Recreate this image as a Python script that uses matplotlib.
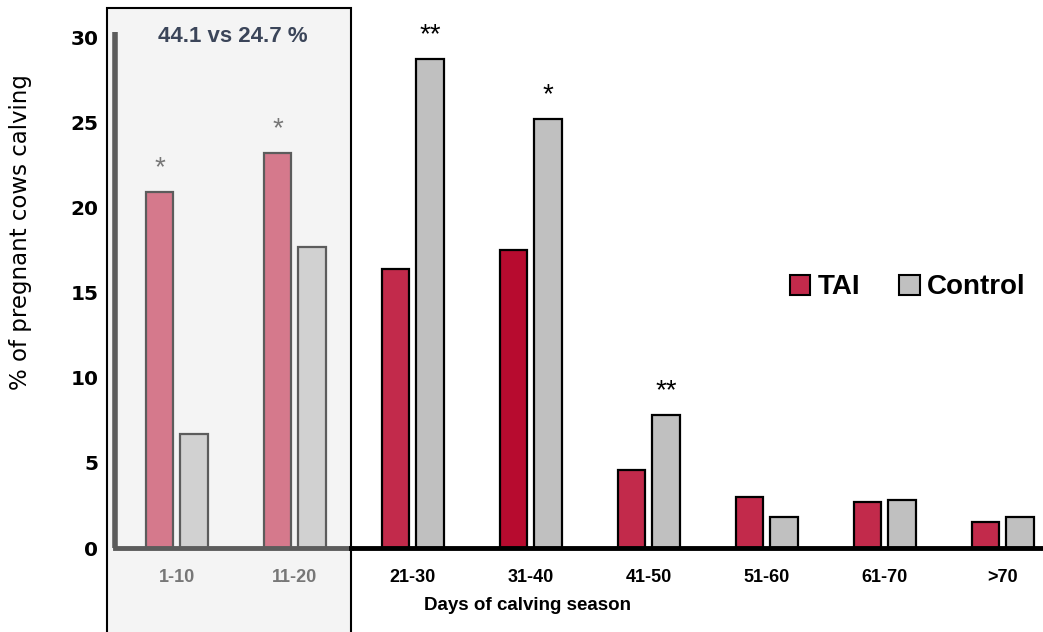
import numpy as np
import matplotlib
matplotlib.use("Agg")
import matplotlib.pyplot as plt
from matplotlib.patches import Rectangle, Patch

# calving distribution by 10-day period
periods = ["1-10", "11-20", "21-30", "31-40", "41-50", "51-60", "61-70", ">70"]
tai = [20.9, 23.2, 16.4, 17.5, 4.6, 3.0, 2.7, 1.5]
control = [6.7, 17.7, 28.7, 25.2, 7.8, 1.8, 2.8, 1.8]
# significance marks: (period index, which series, stars)
sig_marks = [(0, "tai", "*"), (1, "tai", "*"), (2, "control", "**"),
             (3, "control", "*"), (4, "control", "**")]
first_20_text = "44.1 vs 24.7 %"

n_box = 2  # first two periods are highlighted
W, H = 1043, 632
fig = plt.figure(figsize=(W / 100, H / 100), dpi=100)

# shaded panel behind the first 20 days
fig.patches.append(Rectangle((107 / W, -0.01), (351 - 107) / W, (H - 8) / H + 0.01,
                             transform=fig.transFigure, facecolor="#f4f4f4",
                             edgecolor="black", linewidth=1.5, zorder=-1))

ax = fig.add_axes([115 / W, 1 - 548 / H, 1 - 115 / W, (548 - 32) / H])
ax.patch.set_alpha(0)

x = np.arange(len(periods))
off, bw = 0.145, 0.23
tai_cols = ["#d5798c", "#d5798c", "#c22a4b", "#b70b2f", "#c22a4b", "#c22a4b", "#c22a4b", "#c22a4b"]
ctl_cols = ["#d1d1d1"] * n_box + ["#c0c0c0"] * (len(periods) - n_box)
edges = ["#5c5c5c"] * n_box + ["black"] * (len(periods) - n_box)

ax.bar(x - off, tai, bw, color=tai_cols, edgecolor=edges, linewidth=1.6, zorder=3)
ax.bar(x + off, control, bw, color=ctl_cols, edgecolor=edges, linewidth=1.6, zorder=3)

ax.set_xlim(-0.525, 7.34)
ax.set_ylim(0, 30.3)
for s in ax.spines.values():
    s.set_visible(False)

# axis lines: grey inside the panel, black outside
split = 1.475
ax.plot([-0.525, -0.525], [0, 30.3], color="#5c5c5c", lw=4, clip_on=False, zorder=4,
        solid_capstyle="butt")
ax.plot([-0.525, split], [0, 0], color="#5c5c5c", lw=3.5, clip_on=False, zorder=4)
ax.plot([split, 7.34], [0, 0], color="black", lw=3.5, clip_on=False, zorder=4)

ax.set_yticks([0, 5, 10, 15, 20, 25, 30])
ax.tick_params(axis="y", length=0, pad=12)
for lab in ax.get_yticklabels():
    lab.set_fontweight("bold")
    lab.set_fontsize(14.5)
    lab.set_fontfamily("DejaVu Sans")

ax.set_xticks(x)
ax.set_xticklabels(periods, fontfamily="Liberation Sans", fontweight="bold", fontsize=13)
ax.tick_params(axis="x", length=0, pad=15)
for i, lab in enumerate(ax.get_xticklabels()):
    lab.set_color("#777777" if i < n_box else "black")

ax.set_ylabel("% of pregnant cows calving", fontsize=16.5, fontfamily="DejaVu Sans")
ax.yaxis.set_label_coords(-0.089, 0.612)
ax.set_xlabel("Days of calving season", fontsize=13.5, fontweight="bold",
              fontfamily="Liberation Sans")
ax.xaxis.set_label_coords(0.444, -0.095)

for i, series, stars in sig_marks:
    if series == "tai":
        xi, yi = x[i] - off, tai[i]
    else:
        xi, yi = x[i] + off, control[i]
    ax.annotate(stars, (xi, yi), xytext=(0, 8), textcoords="offset points",
                ha="center", va="bottom", fontsize=20,
                fontfamily="Liberation Sans",
                color="#777777" if i < n_box else "black")

ax.text(0.475, 30.05, first_20_text, ha="center", va="center", fontsize=16,
        fontweight="bold", fontfamily="Liberation Sans", color="#3b4559")

handles = [Patch(facecolor="#c22a4b", edgecolor="black", linewidth=1.5, label="TAI"),
           Patch(facecolor="#c0c0c0", edgecolor="black", linewidth=1.5, label="Control")]
ax.legend(handles=handles, loc="center left", bbox_to_anchor=(0.70, 0.505), ncol=2,
          frameon=False, handlelength=0.75, handleheight=0.75, handletextpad=0.25,
          columnspacing=1.4, prop={"family": "Liberation Sans", "weight": "bold", "size": 20})

fig.savefig("out.png", dpi=100)
